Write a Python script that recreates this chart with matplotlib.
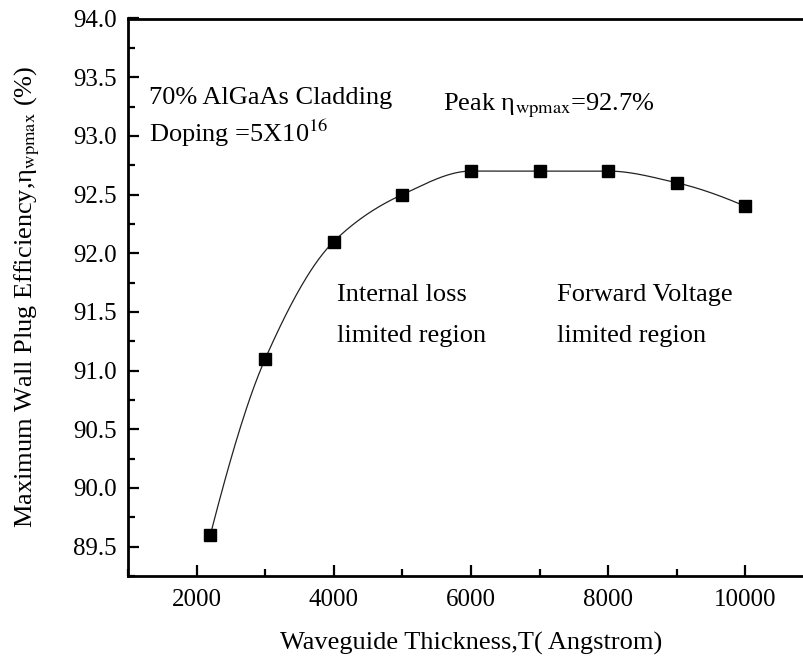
import numpy as np
import matplotlib
matplotlib.use('Agg')
import matplotlib.pyplot as plt
from matplotlib.ticker import MultipleLocator, FormatStrFormatter

plt.rcParams['font.family'] = ['Liberation Serif', 'DejaVu Serif']
plt.rcParams['mathtext.fontset'] = 'stix'

# Waveguide thickness (Angstrom) and max wall plug efficiency (%)
thickness = [2200, 3000, 4000, 5000, 6000, 7000, 8000, 9000, 10000]
efficiency = [89.6, 91.1, 92.1, 92.5, 92.7, 92.7, 92.7, 92.6, 92.4]

x_ticks = [2000, 4000, 6000, 8000, 10000]
y_ticks = [89.5, 90.0, 90.5, 91.0, 91.5, 92.0, 92.5, 93.0, 93.5, 94.0]


def pchip(x, y, xs):
    # monotone cubic (Fritsch-Carlson), no overshoot on the flat top
    x = np.asarray(x, float)
    y = np.asarray(y, float)
    h = np.diff(x)
    delta = np.diff(y) / h
    n = len(x)
    d = np.zeros(n)
    for k in range(1, n - 1):
        if delta[k - 1] * delta[k] > 0:
            w1 = 2 * h[k] + h[k - 1]
            w2 = h[k] + 2 * h[k - 1]
            d[k] = (w1 + w2) / (w1 / delta[k - 1] + w2 / delta[k])
    d[0] = ((2 * h[0] + h[1]) * delta[0] - h[0] * delta[1]) / (h[0] + h[1])
    if np.sign(d[0]) != np.sign(delta[0]):
        d[0] = 0
    elif np.sign(delta[0]) != np.sign(delta[1]) and abs(d[0]) > abs(3 * delta[0]):
        d[0] = 3 * delta[0]
    d[-1] = ((2 * h[-1] + h[-2]) * delta[-1] - h[-1] * delta[-2]) / (h[-1] + h[-2])
    if np.sign(d[-1]) != np.sign(delta[-1]):
        d[-1] = 0
    elif np.sign(delta[-1]) != np.sign(delta[-2]) and abs(d[-1]) > abs(3 * delta[-1]):
        d[-1] = 3 * delta[-1]
    idx = np.clip(np.searchsorted(x, xs) - 1, 0, n - 2)
    t = (xs - x[idx]) / h[idx]
    h00 = 2 * t ** 3 - 3 * t ** 2 + 1
    h10 = t ** 3 - 2 * t ** 2 + t
    h01 = -2 * t ** 3 + 3 * t ** 2
    h11 = t ** 3 - t ** 2
    return (h00 * y[idx] + h10 * h[idx] * d[idx]
            + h01 * y[idx + 1] + h11 * h[idx] * d[idx + 1])


fig = plt.figure(figsize=(8.04, 6.62), dpi=100)
# right spine (x = 11000) falls just outside the picture, as in the original
ax = fig.add_axes([128 / 804, 86 / 662, 686 / 804, 557.5 / 662])

xs = np.linspace(thickness[0], thickness[-1], 400)
ax.plot(xs, pchip(thickness, efficiency, xs), color='#222222', lw=0.9)
ax.plot(thickness, efficiency, 's', color='black', markersize=8)

ax.set_xlim(1000, 11000)
ax.set_ylim(89.25, 94.0)
ax.set_xticks(x_ticks)
ax.set_yticks(y_ticks)
ax.xaxis.set_minor_locator(MultipleLocator(1000))
ax.yaxis.set_minor_locator(MultipleLocator(0.25))
ax.yaxis.set_major_formatter(FormatStrFormatter('%.1f'))

ax.tick_params(which='both', direction='in', top=False, right=False,
               labelsize=18, width=1.6, color='black')
ax.tick_params(which='major', length=8)
ax.tick_params(which='minor', length=5)
ax.tick_params(axis='y', pad=8)
ax.tick_params(axis='x', pad=9)
for s in ax.spines.values():
    s.set_linewidth(2)

ax.set_xlabel('Waveguide Thickness,T( Angstrom)', fontsize=19)
ax.xaxis.set_label_coords(0.5, -0.1)
ax.set_ylabel('Maximum Wall Plug Efficiency,η$_{\\rm wpmax}$ (%)', fontsize=19)
ax.yaxis.set_label_coords(-0.125, 0.5)

ax.text(1310, 93.27, '70% AlGaAs Cladding', fontsize=19, va='baseline')
ax.text(1310, 92.95, 'Doping =5X10$^{16}$', fontsize=19, va='baseline')
ax.text(5590, 93.22, 'Peak η$_{\\rm wpmax}$=92.7%', fontsize=19, va='baseline')
ax.text(4050, 91.59, 'Internal loss', fontsize=19, va='baseline')
ax.text(4050, 91.24, 'limited region', fontsize=19, va='baseline')
ax.text(7260, 91.59, 'Forward Voltage', fontsize=19, va='baseline')
ax.text(7260, 91.24, 'limited region', fontsize=19, va='baseline')

plt.savefig('out.png', dpi=100)
